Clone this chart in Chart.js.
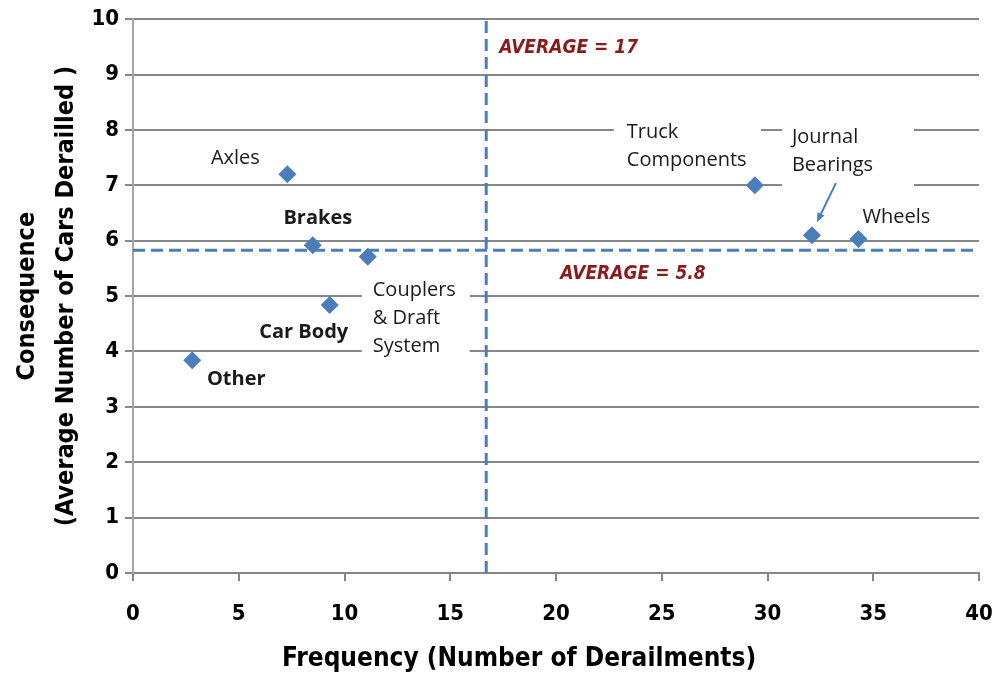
<!DOCTYPE html>
<html>
<head>
<meta charset="utf-8">
<script src="https://cdn.jsdelivr.net/npm/chart.js@4/dist/chart.umd.min.js"></script>
<style>
  html, body { margin: 0; padding: 0; background: #fff; }
  #wrap { width: 996px; height: 677px; }
</style>
</head>
<body>
<div id="wrap"><canvas id="riskChart"></canvas></div>
<script>
// data
var categories = ['Axles', 'Brakes', 'Couplers & Draft System', 'Car Body', 'Other',
                  'Truck Components', 'Journal Bearings', 'Wheels'];
var frequency = [7.3, 8.5, 11.1, 9.3, 2.8, 29.4, 32.1, 34.3];
var consequence = [7.2, 5.92, 5.71, 4.84, 3.84, 7.0, 6.1, 6.03];
var avgFrequency = 16.7;
var avgConsequence = 5.83;
var avgFrequencyText = 'AVERAGE = 17';
var avgConsequenceText = 'AVERAGE = 5.8';
var xTicks = [0, 5, 10, 15, 20, 25, 30, 35, 40];
var yTicks = [0, 1, 2, 3, 4, 5, 6, 7, 8, 9, 10];
var xTitle = 'Frequency (Number of Derailments)';
var yTitle = ['Consequence', '(Average Number of Cars Derailled )'];

var blue = '#4A7EBB';
var grey = '#868686';
var red = '#8B1A1A';
var labelFont = '"Open Sans", sans-serif';
var axisFont = '"Liberation Sans Narrow", "DejaVu Sans Condensed", sans-serif';

// how each category label sits next to its point (pixel offsets)
var callouts = [
    {lines: ['Axles'], dx: -52, dy: -16, align: 'center', bold: false},
    {lines: ['Brakes'], dx: 5, dy: -27, align: 'center', bold: true},
    {lines: ['Couplers', '& Draft', 'System'], dx: 5, dy: 34, align: 'left', bold: false, box: [-6, 10, 108, 107]},
    {lines: ['Car Body'], dx: -26, dy: 27, align: 'center', bold: true},
    {lines: ['Other'], dx: 44, dy: 19, align: 'center', bold: true},
    {lines: ['Truck', 'Components'], dx: -128, dy: -53, align: 'left', bold: false, box: [-141, -78, 147, 74]},
    {lines: ['Journal', 'Bearings'], dx: -20, dy: -98, align: 'left', bold: false, box: [-30, -128, 132, 92],
     arrow: [24, -52, 5, -13]},
    {lines: ['Wheels'], dx: 38, dy: -22, align: 'center', bold: false}
];

var points = [];
for (var i = 0; i < categories.length; i++) {
    points.push({x: frequency[i], y: consequence[i]});
}

var calloutPlugin = {
    id: 'callouts',
    beforeDatasetsDraw: function(chart) {
        var ctx = chart.ctx;
        var xs = chart.scales.x, ys = chart.scales.y;
        ctx.save();
        ctx.fillStyle = '#fff';
        callouts.forEach(function(c, i) {
            if (!c.box) return;
            var px = xs.getPixelForValue(frequency[i]);
            var py = ys.getPixelForValue(consequence[i]);
            ctx.fillRect(px + c.box[0], py + c.box[1], c.box[2], c.box[3]);
        });
        ctx.restore();
    },
    afterDatasetsDraw: function(chart) {
        var ctx = chart.ctx;
        var xs = chart.scales.x, ys = chart.scales.y;
        ctx.save();
        ctx.textBaseline = 'middle';
        callouts.forEach(function(c, i) {
            var px = xs.getPixelForValue(frequency[i]);
            var py = ys.getPixelForValue(consequence[i]);
            ctx.font = (c.bold ? 'bold ' : '') + '20px ' + labelFont;
            ctx.fillStyle = '#1a1a1a';
            ctx.textAlign = c.align;
            c.lines.forEach(function(line, k) {
                ctx.fillText(line, px + c.dx, py + c.dy + k * 28);
            });
            if (c.arrow) {
                var x1 = px + c.arrow[0], y1 = py + c.arrow[1];
                var x2 = px + c.arrow[2], y2 = py + c.arrow[3];
                var ang = Math.atan2(y2 - y1, x2 - x1);
                ctx.strokeStyle = blue;
                ctx.fillStyle = blue;
                ctx.lineWidth = 2;
                ctx.beginPath();
                ctx.moveTo(x1, y1);
                ctx.lineTo(x2 - 6 * Math.cos(ang), y2 - 6 * Math.sin(ang));
                ctx.stroke();
                ctx.beginPath();
                ctx.moveTo(x2, y2);
                ctx.lineTo(x2 - 10 * Math.cos(ang - 0.4), y2 - 10 * Math.sin(ang - 0.4));
                ctx.lineTo(x2 - 10 * Math.cos(ang + 0.4), y2 - 10 * Math.sin(ang + 0.4));
                ctx.closePath();
                ctx.fill();
            }
        });

        // average labels
        ctx.font = 'italic bold 19px ' + axisFont;
        ctx.fillStyle = red;
        ctx.textAlign = 'left';
        ctx.fillText(avgFrequencyText, xs.getPixelForValue(avgFrequency) + 13, chart.chartArea.top + 29);
        ctx.fillText(avgConsequenceText, xs.getPixelForValue(20.2), ys.getPixelForValue(avgConsequence) + 24);

        // x axis title, sits a bit left of the plot centre in the original
        ctx.font = 'bold 26px ' + axisFont;
        ctx.fillStyle = '#000';
        ctx.textAlign = 'center';
        ctx.fillText(xTitle, 519, chart.height - 18);
        ctx.restore();
    }
};

var ctxEl = document.getElementById('riskChart');

var riskChart = new Chart(ctxEl, {
    type: 'scatter',
    data: {
        datasets: [
            {
                label: 'Failure causes',
                data: points,
                pointStyle: 'rectRot',
                pointRadius: 9,
                pointHoverRadius: 9,
                backgroundColor: blue,
                borderColor: blue,
                borderWidth: 0,
                order: 0
            },
            {
                label: 'Average frequency',
                data: [{x: avgFrequency, y: 0}, {x: avgFrequency, y: 10}],
                showLine: true,
                pointRadius: 0,
                borderColor: blue,
                borderWidth: 3,
                borderDash: [12, 6],
                order: 1
            },
            {
                label: 'Average consequence',
                data: [{x: 0, y: avgConsequence}, {x: 40, y: avgConsequence}],
                showLine: true,
                pointRadius: 0,
                borderColor: blue,
                borderWidth: 3,
                borderDash: [12, 6],
                order: 1
            }
        ]
    },
    options: {
        responsive: true,
        maintainAspectRatio: false,
        animation: false,
        layout: { padding: { top: 16, right: 0, left: 0, bottom: 0 } },
        plugins: {
            legend: { display: false },
            tooltip: { enabled: false }
        },
        scales: {
            x: {
                type: 'linear',
                min: 0,
                max: 40,
                afterBuildTicks: function(s) { s.ticks = xTicks.map(function(v) { return {value: v}; }); },
                afterFit: function(s) {
                    s.height = 104;
                    s.paddingLeft = 0;
                    s.paddingRight = 17;
                },
                ticks: {
                    color: '#000',
                    font: { family: axisFont, size: 22, weight: 'bold' },
                    padding: 20
                },
                grid: {
                    drawOnChartArea: false,
                    drawTicks: true,
                    tickLength: 8,
                    color: grey,
                    lineWidth: 2
                },
                border: { color: grey, width: 2 },
                title: { display: false }
            },
            y: {
                type: 'linear',
                min: 0,
                max: 10,
                afterBuildTicks: function(s) { s.ticks = yTicks.map(function(v) { return {value: v}; }); },
                afterFit: function(s) { s.width = 133; },
                ticks: {
                    color: '#000',
                    font: { family: axisFont, size: 22, weight: 'bold' },
                    padding: 6
                },
                grid: {
                    color: grey,
                    lineWidth: 2,
                    tickLength: 8
                },
                border: { color: '#a6a6a6', width: 2 },
                title: {
                    display: true,
                    text: yTitle,
                    color: '#000',
                    font: { family: axisFont, size: 25, weight: 'bold', lineHeight: 1.55 },
                    padding: { top: 8, bottom: 0 }
                }
            }
        }
    },
    plugins: [calloutPlugin]
});
</script>
</body>
</html>
